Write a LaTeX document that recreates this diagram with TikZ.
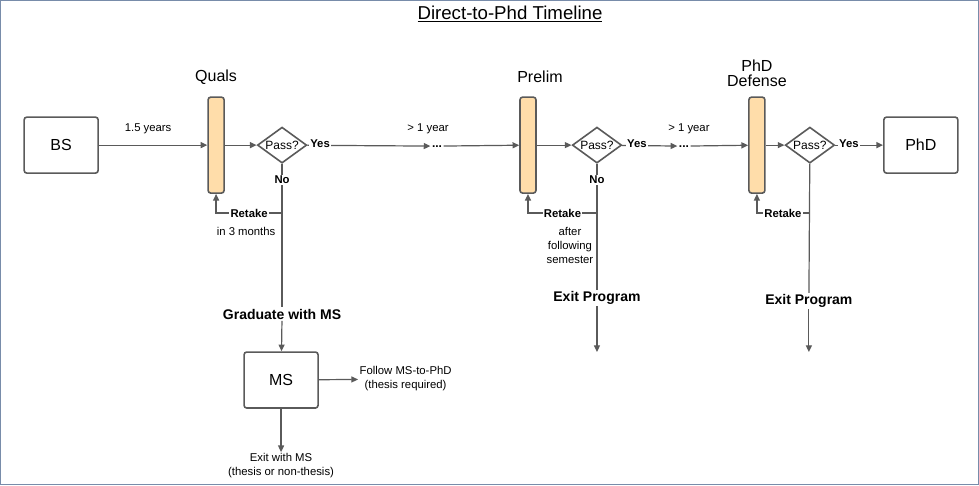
\documentclass[tikz,border=0pt]{standalone}
\usepackage{fontspec}
\setmainfont{Liberation Sans}
\usetikzlibrary{shapes.geometric,arrows.meta}
\definecolor{lnc}{RGB}{90,90,90}
\definecolor{barfill}{RGB}{255,221,170}
\definecolor{framec}{RGB}{120,140,170}
\tikzset{
  box/.style={draw=lnc,line width=1.2pt,rounded corners=2pt,minimum width=55.5pt,minimum height=42pt,font=\fontsize{12}{14}\selectfont},
  bar/.style={draw=lnc,fill=barfill,line width=1.2pt,rounded corners=2pt,minimum width=12pt,minimum height=72pt,inner sep=0pt},
  pass/.style={diamond,draw=lnc,line width=1.2pt,aspect=1.4,minimum width=37pt,minimum height=27pt,inner sep=0pt,font=\fontsize{9}{10}\selectfont},
  lbl/.style={font=\fontsize{8.5}{10.5}\selectfont,align=center,inner sep=1pt},
  blbl/.style={font=\bfseries\fontsize{8.5}{10}\selectfont,inner sep=1pt,fill=white},
  big/.style={font=\bfseries\fontsize{10.5}{12}\selectfont,inner sep=1pt},
  stage/.style={font=\fontsize{12}{13.5}\selectfont,align=center},
  ln/.style={draw=lnc,line width=0.9pt},
  arr/.style={ln,-{Triangle[length=5pt,width=4.5pt]}}
}
\begin{document}
\begin{tikzpicture}[x=0.75pt,y=0.75pt,yscale=-1,xscale=1]
\draw[framec,line width=1pt] (0.5,0.5) rectangle (978.5,484.5);
\node[font=\fontsize{14}{16}\selectfont] (title) at (510,14) {\underline{Direct-to-Phd Timeline}};

% stages
\node[box] (bs) at (61,145) {BS};
\node[box] (phd) at (921,145) {PhD};
\node[bar] (quals) at (216,145) {};
\node[bar] (prelim) at (528,145) {};
\node[bar] (defense) at (757,145) {};
\node[stage] at (216,77) {Quals};
\node[stage] at (540,77) {Prelim};
\node[stage] at (757,73) {PhD\\[-2pt]Defense};
\node[pass] (p1) at (282,145) {Pass?};
\node[pass] (p2) at (597,145) {Pass?};
\node[pass] (p3) at (810,145) {Pass?};
\node[lbl,font=\bfseries\fontsize{9}{10}\selectfont] (d1) at (437,146) {...};
\node[lbl,font=\bfseries\fontsize{9}{10}\selectfont] (d2) at (684,146) {...};

% main line
\draw[arr] (bs) -- (quals);
\node[lbl] at (148,129) {1.5 years};
\draw[arr] (quals) -- (p1);
\draw[arr] (p1) -- (d1);
\node[blbl] at (320,144) {Yes};
\node[lbl] at (428,129) {> 1 year};
\draw[arr] (d1) -- (prelim);
\draw[arr] (prelim) -- (p2);
\draw[arr] (p2) -- (d2);
\node[blbl] at (637,144) {Yes};
\node[lbl] at (689,129) {> 1 year};
\draw[arr] (d2) -- (defense);
\draw[arr] (defense) -- (p3);
\draw[arr] (p3) -- (phd);
\node[blbl] at (849,144) {Yes};

% quals fail
\node[big] (grad) at (282,314) {Graduate with MS};
\node[box] (ms) at (281,380) {MS};
\coordinate (r1) at (282,213);
\draw[ln] (p1) -- (grad);
\node[blbl] at (282,180) {No};
\draw[arr] (r1) -- node[blbl]{Retake} (216,213) -- (quals);
\node[lbl,fill=white] at (246,231) {in 3 months};
\draw[arr] (grad) -- (ms);
\node[lbl,anchor=west] (follow) at (358,379) {Follow MS-to-PhD\\(thesis required)};
\draw[arr] (ms) -- (follow);
\node[lbl] (exitms) at (281,466) {Exit with MS\\(thesis or non-thesis)};
\draw[arr] (ms) -- (exitms);

% prelim fail
\node[big] (exit2) at (597,298) {Exit Program};
\coordinate (r2) at (597,213);
\coordinate (e2) at (597,352);
\draw[ln] (p2) -- (exit2);
\node[blbl] at (597,180) {No};
\draw[arr] (r2) -- node[blbl]{Retake} (528,213) -- (prelim);
\node[lbl] at (570,245) {after\\following\\semester};
\draw[arr] (exit2) -- (e2);

% defense fail
\node[big] (exit3) at (809,301) {Exit Program};
\coordinate (r3) at (809,213);
\coordinate (e3) at (809,352);
\draw[ln] (p3) -- (exit3);
\draw[arr] (r3) -- node[blbl]{Retake} (757,213) -- (defense);
\draw[arr] (exit3) -- (e3);
\end{tikzpicture}
\end{document}
